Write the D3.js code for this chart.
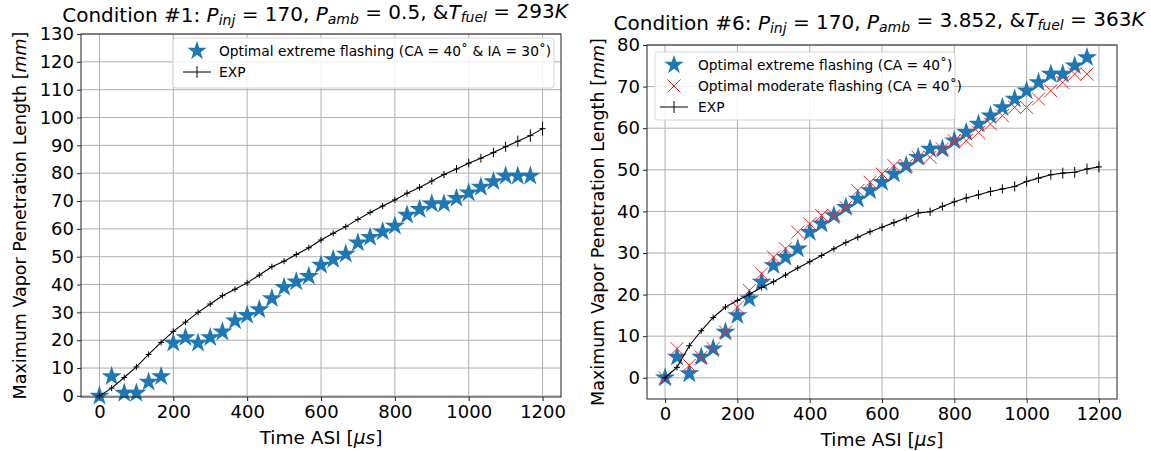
<!DOCTYPE html>
<html>
<head>
<meta charset="utf-8">
<script src="https://cdn.jsdelivr.net/npm/d3@7"></script>
<style>
body { margin: 0; background: #fff; }
text { font-family: "DejaVu Sans", sans-serif; }
</style>
</head>
<body>
<svg id="chart" width="1151" height="451"></svg>
<script>
// time stamps of the simulation points and the experiment points [us]
var simTimes = [0, 33, 67, 100, 133, 167, 200, 233, 267, 300, 333, 367, 400, 433, 467, 500, 533, 567,
  600, 633, 667, 700, 733, 767, 800, 833, 867, 900, 933, 967, 1000, 1033, 1067, 1100, 1133, 1167];
var expTimes = [0, 33, 67, 100, 133, 167, 200, 233, 267, 300, 333, 367, 400, 433, 467, 500, 533, 567,
  600, 633, 667, 700, 733, 767, 800, 833, 867, 900, 933, 967, 1000, 1033, 1067, 1100, 1133, 1167, 1200];

// condition #1
var c1Extreme = [0, 7, 1, 1, 5, 7, 19, 21, 19, 21, 23, 27, 29, 31, 35, 39, 41, 43,
  47, 49, 51, 55, 57, 59, 61, 65, 67, 69, 69, 71, 73, 75, 77, 79, 79, 79];
var c1Exp = [0, 2.8, 6.6, 10.4, 14.9, 19.2, 23.2, 26.5, 30, 33, 36, 38.3, 40.6, 43.4, 46.4, 48.4, 50.8, 53.2,
  56, 58.4, 60.8, 63.4, 65.9, 68.2, 70.4, 72.8, 74.9, 77.2, 79.5, 81.5, 83.6, 85.4, 87.4, 89.5, 91.5, 93.5, 96];
var c1ExpErr = [0, 0.3, 0.3, 0.4, 0.4, 0.5, 0.5, 0.5, 0.6, 0.6, 0.6, 0.7, 0.7, 0.7, 0.8, 0.8, 0.8, 0.9,
  0.9, 0.9, 1, 1, 1, 1.1, 1.1, 1.2, 1.2, 1.3, 1.3, 1.4, 1.5, 1.6, 1.7, 1.8, 2, 2.2, 2.5];

// condition #6
var c6Extreme = [0, 5, 1, 5, 7, 11, 15, 19, 23, 27, 29, 31, 35, 37, 39, 41, 43, 45,
  47, 49, 51, 53, 55, 55, 57, 59, 61, 63, 65, 67, 69, 71, 73, 73, 75, 77];
var c6Moderate = [0, 7, 3, 5, 7, 11, 17, 21, 25, 29, 31, 35, 37, 39, 39, 41, 45, 47,
  49, 51, 51, 53, 53, 55, 57, 57, 59, 61, 63, 65, 65, 67, 69, 71, 73, 73];
var c6Exp = [0, 2.5, 7.7, 11.3, 14.5, 17, 18.6, 20.1, 21.7, 23.1, 24.7, 26.4, 27.9, 29.4, 31, 32.5, 33.8, 35.1,
  36.2, 37.3, 38.4, 39.6, 39.9, 41.2, 42.3, 43.2, 44, 44.8, 45.4, 46, 47.2, 48, 48.8, 49.2, 49.4, 50.2, 50.7];
var c6ExpErr = [0, 0.2, 0.3, 0.3, 0.4, 0.4, 0.5, 0.5, 0.5, 0.6, 0.6, 0.6, 0.7, 0.7, 0.7, 0.8, 0.8, 0.8,
  0.9, 0.9, 0.9, 1, 1, 1, 1, 1.1, 1.1, 1.1, 1.1, 1.2, 1.2, 1.2, 1.2, 1.3, 1.3, 1.3, 1.3];

var xTicks = [0, 200, 400, 600, 800, 1000, 1200];
var c1YTicks = d3.range(0, 131, 10);
var c6YTicks = d3.range(0, 81, 10);

var blue = "#1f77b4";
var svg = d3.select("#chart");

// title / label pieces: n = normal, i = italic, s = italic subscript
function richText(sel, parts) {
  var shift = 0;
  parts.forEach(function(p) {
    var t = sel.append("tspan").text(p[0]);
    var want = p[1] === "s" ? 0.22 : 0;
    if (want !== shift) { t.attr("dy", (want - shift) + "em"); }
    shift = want;
    if (p[1] === "i" || p[1] === "s") t.attr("font-style", "italic");
    if (p[1] === "s") t.attr("font-size", "70%");
  });
}

function drawPanel(p) {
  var x = d3.scaleLinear().domain([-50, 1250]).range([p.left, p.right]);
  var y = d3.scaleLinear().domain(p.yDomain).range([p.bottom, p.top]);
  var g = svg.append("g");

  // grid
  g.append("g").selectAll("line").data(xTicks).enter().append("line")
    .attr("x1", d => x(d)).attr("x2", d => x(d))
    .attr("y1", p.top).attr("y2", p.bottom)
    .attr("stroke", "#b0b0b0").attr("stroke-width", 1);
  g.append("g").selectAll("line").data(p.yTicks).enter().append("line")
    .attr("x1", p.left).attr("x2", p.right)
    .attr("y1", d => y(d)).attr("y2", d => y(d))
    .attr("stroke", "#b0b0b0").attr("stroke-width", 1);

  // axes
  var xAxis = g.append("g")
    .attr("transform", `translate(0, ${p.bottom})`)
    .call(d3.axisBottom(x).tickValues(xTicks).tickFormat(d3.format("d")).tickSize(4).tickPadding(4));
  var yAxis = g.append("g")
    .attr("transform", `translate(${p.left}, 0)`)
    .call(d3.axisLeft(y).tickValues(p.yTicks).tickFormat(d3.format("d")).tickSize(4).tickPadding(3));
  [xAxis, yAxis].forEach(function(a) {
    a.select(".domain").remove();
    a.attr("font-family", null).attr("font-size", null);
    a.selectAll("line").attr("stroke", "#222");
    a.selectAll("text").attr("font-size", 18).attr("fill", "#000");
  });

  // series, drawn in legend order
  p.series.forEach(function(s) {
    var pts = d3.zip(s.t, s.v, s.err || s.v.map(() => 0));
    if (s.kind === "star") {
      g.append("g").selectAll("path").data(pts).enter().append("path")
        .attr("d", d3.symbol().type(d3.symbolStar).size(125))
        .attr("transform", d => `translate(${x(d[0])}, ${y(d[1])})`)
        .attr("fill", blue);
    } else if (s.kind === "x") {
      g.append("g").selectAll("path").data(pts).enter().append("path")
        .attr("d", "M-6.5,-6.5L6.5,6.5M-6.5,6.5L6.5,-6.5")
        .attr("transform", d => `translate(${x(d[0])}, ${y(d[1])})`)
        .attr("stroke", "#ff2020").attr("stroke-width", 1).attr("fill", "none");
    } else {
      var line = d3.line().x(d => x(d[0])).y(d => y(d[1]));
      g.append("path").datum(pts).attr("d", line)
        .attr("fill", "none").attr("stroke", "#000").attr("stroke-width", 1.1);
      var eb = g.append("g").selectAll("g").data(pts).enter().append("g");
      eb.append("line")
        .attr("x1", d => x(d[0])).attr("x2", d => x(d[0]))
        .attr("y1", d => Math.min(y(d[1] + d[2]), y(d[1]) - 3))
        .attr("y2", d => Math.max(y(d[1] - d[2]), y(d[1]) + 3))
        .attr("stroke", "#000").attr("stroke-width", 1);
      eb.append("line")
        .attr("x1", d => x(d[0]) - 3).attr("x2", d => x(d[0]) + 3)
        .attr("y1", d => y(d[1])).attr("y2", d => y(d[1]))
        .attr("stroke", "#000").attr("stroke-width", 1);
    }
  });

  // frame
  g.append("rect")
    .attr("x", p.left).attr("y", p.top)
    .attr("width", p.right - p.left).attr("height", p.bottom - p.top)
    .attr("fill", "none").attr("stroke", "#222").attr("stroke-width", 1);

  // legend
  var lg = g.append("g").attr("transform", `translate(${p.legend.x}, ${p.legend.y})`);
  lg.append("rect")
    .attr("width", p.legend.w).attr("height", p.legend.h).attr("rx", 3)
    .attr("fill", "#fff").attr("fill-opacity", 0.85)
    .attr("stroke", "#d6d6d6").attr("stroke-width", 1);
  p.series.forEach(function(s, i) {
    var ry = 13 + i * 21;
    var row = lg.append("g").attr("transform", `translate(0, ${ry})`);
    var mx = p.legend.mx;
    if (s.kind === "star") {
      row.append("path").attr("d", d3.symbol().type(d3.symbolStar).size(115))
        .attr("transform", `translate(${mx}, 0)`).attr("fill", blue);
    } else if (s.kind === "x") {
      row.append("path").attr("d", "M-6.5,-6.5L6.5,6.5M-6.5,6.5L6.5,-6.5")
        .attr("transform", `translate(${mx}, 0)`)
        .attr("stroke", "#ff2020").attr("stroke-width", 1).attr("fill", "none");
    } else {
      row.append("line").attr("x1", mx - 14).attr("x2", mx + 14).attr("y1", 0).attr("y2", 0)
        .attr("stroke", "#000").attr("stroke-width", 1);
      row.append("line").attr("x1", mx).attr("x2", mx).attr("y1", -6).attr("y2", 6)
        .attr("stroke", "#000").attr("stroke-width", 1);
    }
    row.append("text").attr("x", p.legend.tx).attr("y", 5)
      .attr("font-size", 13.8).text(s.label);
  });

  // title
  var title = svg.append("text")
    .attr("x", (p.left + p.right) / 2 + p.titleDx).attr("y", p.top - p.titleGap)
    .attr("text-anchor", "middle").attr("font-size", 20);
  richText(title, p.title);

  // axis labels
  var xl = svg.append("text")
    .attr("x", (p.left + p.right) / 2).attr("y", p.bottom + 47)
    .attr("text-anchor", "middle").attr("font-size", 18.5);
  richText(xl, [["Time ASI [", "n"], ["\u03bcs", "i"], ["]", "n"]]);

  var yl = svg.append("text")
    .attr("transform", `translate(${p.yLabelX}, ${(p.top + p.bottom) / 2}) rotate(-90)`)
    .attr("text-anchor", "middle").attr("dy", "0.35em").attr("font-size", 17.5);
  richText(yl, [["Maximum Vapor Penetration Length [", "n"], ["mm", "i"], ["]", "n"]]);
}

drawPanel({
  left: 81, right: 561, top: 34, bottom: 397,
  yDomain: [-0.4, 130], yTicks: c1YTicks, yLabelX: 20, titleDx: -6, titleGap: 12,
  title: [["Condition #1: ", "n"], ["P", "i"], ["inj", "s"], [" = 170, ", "n"], ["P", "i"], ["amb", "s"],
    [" = 0.5, &", "n"], ["T", "i"], ["fuel", "s"], [" = 293", "n"], ["K", "i"]],
  legend: { x: 173, y: 38, w: 381, h: 50, mx: 24, tx: 46 },
  series: [
    { kind: "star", t: simTimes, v: c1Extreme, label: "Optimal extreme flashing (CA = 40\u02da  & IA = 30\u02da)" },
    { kind: "exp", t: expTimes, v: c1Exp, err: c1ExpErr, label: "EXP" }
  ]
});

drawPanel({
  left: 647, right: 1117, top: 45, bottom: 399,
  yDomain: [-5.1, 80], yTicks: c6YTicks, yLabelX: 598, titleDx: -3, titleGap: 15,
  title: [["Condition #6: ", "n"], ["P", "i"], ["inj", "s"], [" = 170, ", "n"], ["P", "i"], ["amb", "s"],
    [" = 3.852, &", "n"], ["T", "i"], ["fuel", "s"], [" = 363", "n"], ["K", "i"]],
  legend: { x: 655, y: 52, w: 300, h: 68, mx: 19, tx: 43 },
  series: [
    { kind: "star", t: simTimes, v: c6Extreme, label: "Optimal extreme flashing (CA = 40\u02da)" },
    { kind: "x", t: simTimes, v: c6Moderate, label: "Optimal moderate flashing (CA = 40\u02da)" },
    { kind: "exp", t: expTimes, v: c6Exp, err: c6ExpErr, label: "EXP" }
  ]
});
</script>
</body>
</html>
